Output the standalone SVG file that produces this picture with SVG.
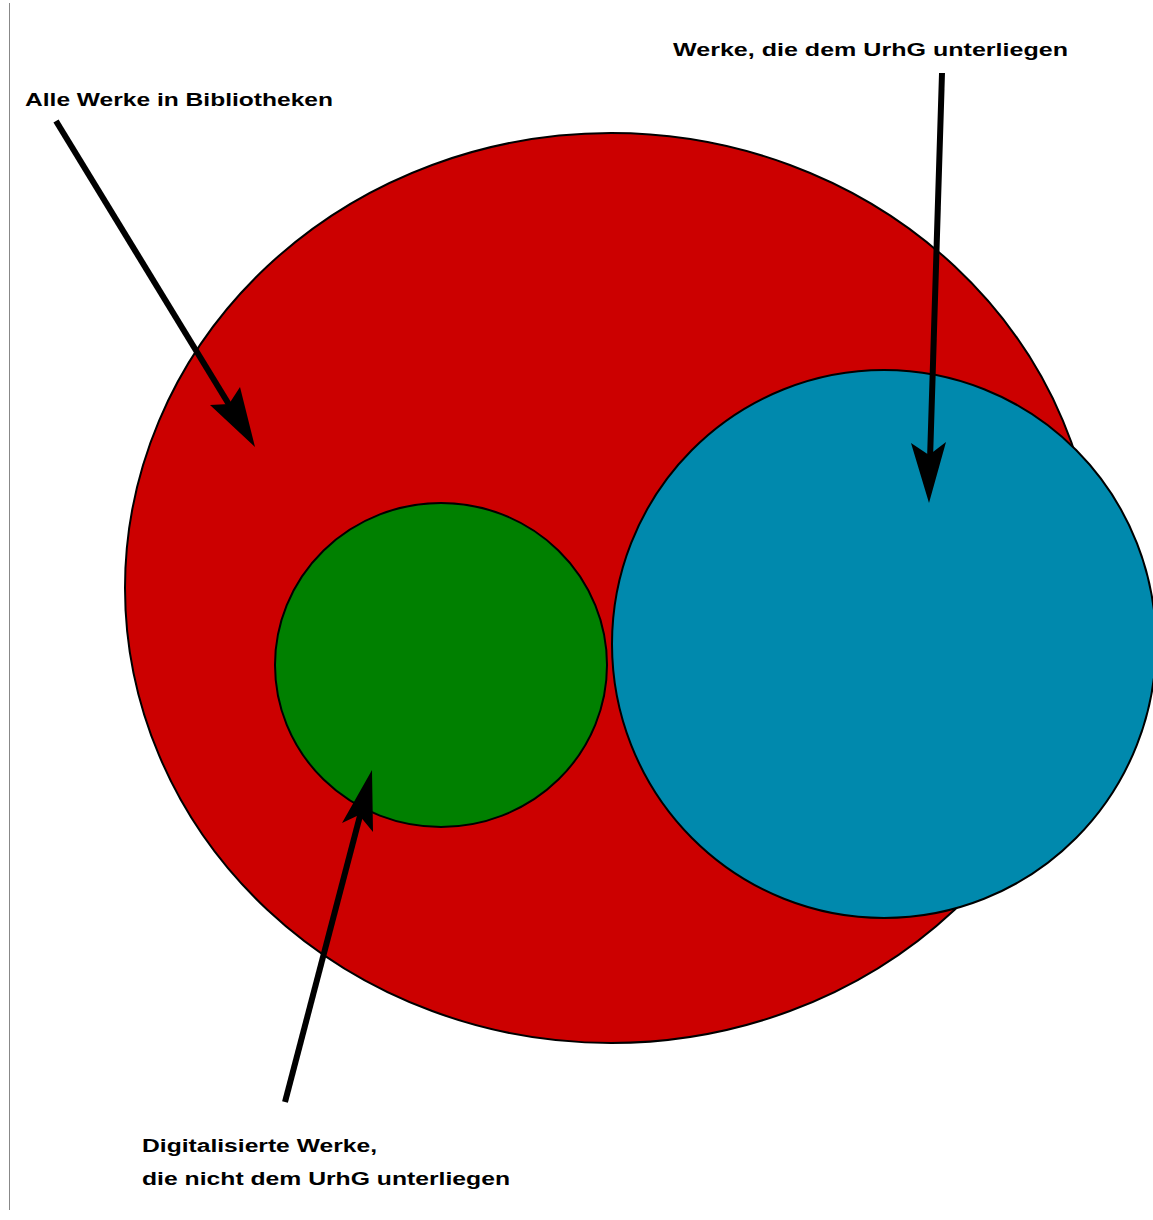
<svg xmlns="http://www.w3.org/2000/svg" width="1153" height="1220" viewBox="0 0 1153 1220">
<style>
.shape{stroke:#000;stroke-width:2}
.lbl{font-family:"Liberation Sans",Arial,sans-serif;font-weight:bold;font-size:18px;fill:#000}
.arr{stroke:#000;stroke-width:6;fill:none}
.head{fill:#000}
</style>
<rect width="1153" height="1220" fill="#fff"/>
<line x1="9.5" y1="3" x2="9.5" y2="1210" stroke="#888" stroke-width="1"/>
<g id="alle-werke">
<ellipse class="shape" cx="611" cy="588" rx="486" ry="455" fill="#CC0000"/>
</g>
<g id="digitalisiert">
<ellipse class="shape" cx="441" cy="665" rx="166" ry="162" fill="#008000"/>
</g>
<g id="urhg">
<ellipse class="shape" cx="884" cy="644" rx="272" ry="274" fill="#0089AD"/>
</g>
<g id="labels">
<text class="lbl" x="25" y="106" textLength="308" lengthAdjust="spacingAndGlyphs">Alle Werke in Bibliotheken</text>
<text class="lbl" x="673" y="56" textLength="395" lengthAdjust="spacingAndGlyphs">Werke, die dem UrhG unterliegen</text>
<text class="lbl" x="142" y="1152" textLength="235" lengthAdjust="spacingAndGlyphs">Digitalisierte Werke,</text>
<text class="lbl" x="142" y="1185" textLength="368" lengthAdjust="spacingAndGlyphs">die nicht dem UrhG unterliegen</text>
</g>
<g id="connectors">
<line class="arr" x1="56" y1="121" x2="236" y2="416"/>
<polygon class="head" points="255,447 210,405 229,404 240,387"/>
<line class="arr" x1="942" y1="73" x2="930" y2="460"/>
<polygon class="head" points="929,503 911,443 929,455 946,442"/>
<line class="arr" x1="285" y1="1102" x2="361" y2="812"/>
<polygon class="head" points="372,770 342,823 359,815 373,832"/>
</g>
</svg>
